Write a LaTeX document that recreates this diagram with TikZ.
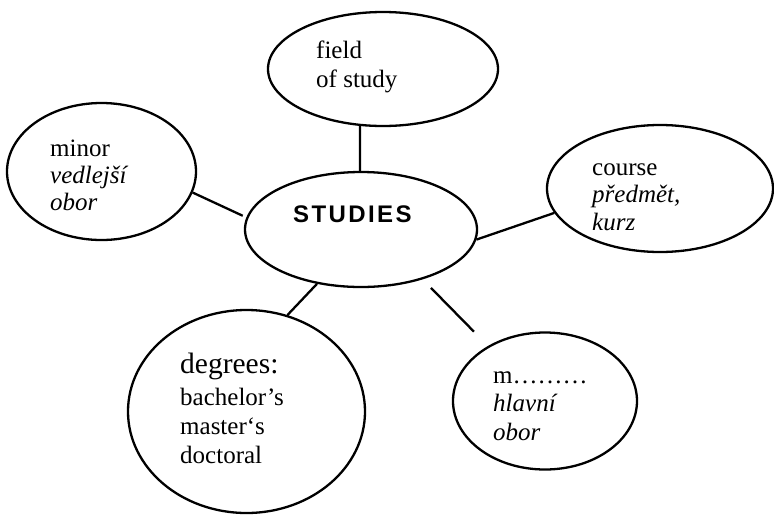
\documentclass[tikz,border=0pt]{standalone}
\usepackage{fontspec}
\setmainfont{Liberation Serif}
\newfontfamily\headfont[LetterSpace=10]{Liberation Sans}
\usetikzlibrary{shapes.geometric}

\begin{document}
\begin{tikzpicture}[x=1pt,y=-1pt,
  bubble/.style={draw, ellipse, line width=2.3pt, inner sep=0pt},
  words/.style={anchor=base west, align=left, inner sep=0pt, font=\fontsize{25}{28}\selectfont},
  link/.style={line width=2.3pt}]

  \useasboundingbox (0,0) rectangle (774,515);

  \node[bubble, minimum width=232pt, minimum height=115pt] (studies) at (361,229.5) {};
  \node[bubble, minimum width=230pt, minimum height=114pt] (field) at (383,69) {};
  \node[bubble, minimum width=189pt, minimum height=137pt] (minor) at (101.5,171.5) {};
  \node[bubble, minimum width=226pt, minimum height=127pt] (course) at (660,188.5) {};
  \node[bubble, minimum width=237pt, minimum height=203pt] (degrees) at (246.5,411.5) {};
  \node[bubble, minimum width=184pt, minimum height=137pt] (major) at (545,401) {};

  % texts (anchored at the last line)
  \node[anchor=base west, inner sep=0pt, font=\headfont\bfseries\fontsize{24}{24}\selectfont] (studiestext) at (293,222) {STUDIES};
  \node[words, font=\fontsize{25}{29}\selectfont] (fieldtext) at (316,87) {field\\of study};
  \node[words, font=\fontsize{25}{27}\selectfont] (minortext) at (50,210) {minor\\\textit{vedlejší}\\\textit{obor}};
  \node[words, font=\fontsize{25}{27.5}\selectfont] (coursetext) at (592,230) {course\\\textit{předmět,}\\\textit{kurz}};
  \node[words, font=\fontsize{29.5}{30}\selectfont] (degreeshead) at (180,373) {degrees:};
  \node[words, font=\fontsize{25}{29}\selectfont] (degreestext) at (180,463) {bachelor’s\\master‘s\\doctoral};
  \node[words, font=\fontsize{25}{28.5}\selectfont] (majortext) at (493,440) {m………\\\textit{hlavní}\\\textit{obor}};

  \path [link] (field.-112) edge (studies.91);
  \path [link, shorten >=4pt] (minor.-13) edge (studies.174.5);
  \path [link] (studies.-5) edge (course.-167);
  \path [link] (studies.-129) edge (degrees.67);
  \path [link, shorten <=12pt, shorten >=20pt] (studies.-39) edge (major.136);
\end{tikzpicture}
\end{document}
